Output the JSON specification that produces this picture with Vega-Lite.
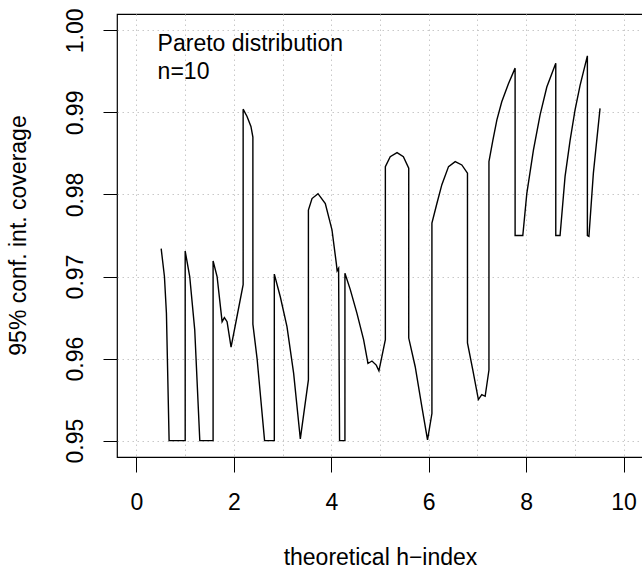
{
  "$schema": "https://vega.github.io/schema/vega-lite/v6.json",
  "width": 526,
  "height": 443,
  "autosize": {"type": "none"},
  "padding": {"left": 117, "top": 14, "right": 0, "bottom": 111},
  "background": "white",
  "config": {
    "view": {"stroke": "black", "strokeWidth": 1.2},
    "font": "Liberation Sans",
    "axis": {
      "labelFont": "Liberation Sans",
      "titleFont": "Liberation Sans",
      "labelColor": "black",
      "titleColor": "black",
      "labelFontSize": 23,
      "titleFontSize": 23,
      "titleFontWeight": "normal",
      "labelOverlap": false,
      "labelFlush": false,
      "domain": false,
      "grid": true,
      "gridColor": "#c8c8c8",
      "gridDash": [1.5, 3.5],
      "gridWidth": 1,
      "tickWidth": 1
    }
  },
  "datasets": {
    "curve": [
      {"i": 1, "h": 0.507, "coverage": 0.9734},
      {"i": 2, "h": 0.574, "coverage": 0.9700},
      {"i": 3, "h": 0.615, "coverage": 0.9655},
      {"i": 4, "h": 0.67, "coverage": 0.950},
      {"i": 5, "h": 1.0, "coverage": 0.950},
      {"i": 6, "h": 1.0, "coverage": 0.9731},
      {"i": 7, "h": 1.093, "coverage": 0.9700},
      {"i": 8, "h": 1.196, "coverage": 0.9635},
      {"i": 9, "h": 1.30, "coverage": 0.950},
      {"i": 10, "h": 1.573, "coverage": 0.950},
      {"i": 11, "h": 1.573, "coverage": 0.9719},
      {"i": 12, "h": 1.655, "coverage": 0.9700},
      {"i": 13, "h": 1.758, "coverage": 0.9645},
      {"i": 14, "h": 1.805, "coverage": 0.9650},
      {"i": 15, "h": 1.86, "coverage": 0.9645},
      {"i": 16, "h": 1.942, "coverage": 0.9614},
      {"i": 17, "h": 2.05, "coverage": 0.9647},
      {"i": 18, "h": 2.19, "coverage": 0.9690},
      {"i": 19, "h": 2.19, "coverage": 0.9904},
      {"i": 20, "h": 2.27, "coverage": 0.9895},
      {"i": 21, "h": 2.35, "coverage": 0.9883},
      {"i": 22, "h": 2.39, "coverage": 0.9870},
      {"i": 23, "h": 2.39, "coverage": 0.9642},
      {"i": 24, "h": 2.476, "coverage": 0.9600},
      {"i": 25, "h": 2.63, "coverage": 0.950},
      {"i": 26, "h": 2.83, "coverage": 0.950},
      {"i": 27, "h": 2.83, "coverage": 0.9703},
      {"i": 28, "h": 2.954, "coverage": 0.9675},
      {"i": 29, "h": 3.09, "coverage": 0.9639},
      {"i": 30, "h": 3.227, "coverage": 0.9582},
      {"i": 31, "h": 3.364, "coverage": 0.9502},
      {"i": 32, "h": 3.53, "coverage": 0.9574},
      {"i": 33, "h": 3.53, "coverage": 0.9781},
      {"i": 34, "h": 3.604, "coverage": 0.9795},
      {"i": 35, "h": 3.727, "coverage": 0.9801},
      {"i": 36, "h": 3.877, "coverage": 0.9789},
      {"i": 37, "h": 4.014, "coverage": 0.9757},
      {"i": 38, "h": 4.103, "coverage": 0.9716},
      {"i": 39, "h": 4.12, "coverage": 0.9707},
      {"i": 40, "h": 4.15, "coverage": 0.9710},
      {"i": 41, "h": 4.17, "coverage": 0.950},
      {"i": 42, "h": 4.28, "coverage": 0.950},
      {"i": 43, "h": 4.28, "coverage": 0.9704},
      {"i": 44, "h": 4.39, "coverage": 0.9684},
      {"i": 45, "h": 4.527, "coverage": 0.9655},
      {"i": 46, "h": 4.663, "coverage": 0.9623},
      {"i": 47, "h": 4.753, "coverage": 0.9594},
      {"i": 48, "h": 4.835, "coverage": 0.9597},
      {"i": 49, "h": 4.923, "coverage": 0.9592},
      {"i": 50, "h": 4.978, "coverage": 0.9585},
      {"i": 51, "h": 5.11, "coverage": 0.9623},
      {"i": 52, "h": 5.11, "coverage": 0.9834},
      {"i": 53, "h": 5.21, "coverage": 0.9846},
      {"i": 54, "h": 5.35, "coverage": 0.9851},
      {"i": 55, "h": 5.48, "coverage": 0.9846},
      {"i": 56, "h": 5.59, "coverage": 0.9832},
      {"i": 57, "h": 5.59, "coverage": 0.9625},
      {"i": 58, "h": 5.723, "coverage": 0.9590},
      {"i": 59, "h": 5.86, "coverage": 0.9541},
      {"i": 60, "h": 5.976, "coverage": 0.9501},
      {"i": 61, "h": 6.066, "coverage": 0.9533},
      {"i": 62, "h": 6.066, "coverage": 0.9765},
      {"i": 63, "h": 6.168, "coverage": 0.9789},
      {"i": 64, "h": 6.27, "coverage": 0.9812},
      {"i": 65, "h": 6.407, "coverage": 0.9834},
      {"i": 66, "h": 6.544, "coverage": 0.9840},
      {"i": 67, "h": 6.68, "coverage": 0.9836},
      {"i": 68, "h": 6.796, "coverage": 0.9826},
      {"i": 69, "h": 6.796, "coverage": 0.9619},
      {"i": 70, "h": 6.906, "coverage": 0.9586},
      {"i": 71, "h": 7.02, "coverage": 0.9550},
      {"i": 72, "h": 7.09, "coverage": 0.9556},
      {"i": 73, "h": 7.159, "coverage": 0.9554},
      {"i": 74, "h": 7.237, "coverage": 0.9586},
      {"i": 75, "h": 7.237, "coverage": 0.9840},
      {"i": 76, "h": 7.317, "coverage": 0.9866},
      {"i": 77, "h": 7.4, "coverage": 0.9891},
      {"i": 78, "h": 7.5, "coverage": 0.9913},
      {"i": 79, "h": 7.637, "coverage": 0.9935},
      {"i": 80, "h": 7.774, "coverage": 0.9954},
      {"i": 81, "h": 7.774, "coverage": 0.9750},
      {"i": 82, "h": 7.932, "coverage": 0.9750},
      {"i": 83, "h": 8.014, "coverage": 0.9801},
      {"i": 84, "h": 8.15, "coverage": 0.9854},
      {"i": 85, "h": 8.287, "coverage": 0.9897},
      {"i": 86, "h": 8.425, "coverage": 0.9931},
      {"i": 87, "h": 8.609, "coverage": 0.9960},
      {"i": 88, "h": 8.609, "coverage": 0.9750},
      {"i": 89, "h": 8.697, "coverage": 0.9750},
      {"i": 90, "h": 8.8, "coverage": 0.9822},
      {"i": 91, "h": 8.903, "coverage": 0.9866},
      {"i": 92, "h": 9.005, "coverage": 0.9903},
      {"i": 93, "h": 9.108, "coverage": 0.9933},
      {"i": 94, "h": 9.258, "coverage": 0.9969},
      {"i": 95, "h": 9.258, "coverage": 0.9750},
      {"i": 96, "h": 9.29, "coverage": 0.9749},
      {"i": 97, "h": 9.381, "coverage": 0.9826},
      {"i": 98, "h": 9.518, "coverage": 0.9905}
    ],
    "notes": [
      {"label": "Pareto distribution", "h": 0.434, "coverage": 0.99753},
      {"label": "n=10", "h": 0.434, "coverage": 0.99408}
    ]
  },
  "layer": [
    {
      "data": {"name": "curve"},
      "mark": {"type": "line", "color": "black", "strokeWidth": 1.4},
      "encoding": {
        "x": {
          "field": "h",
          "type": "quantitative",
          "scale": {"domain": [-0.4, 10.4], "nice": false, "zero": false},
          "axis": {
            "values": [0, 1, 2, 3, 4, 5, 6, 7, 8, 9, 10],
            "labelExpr": "datum.value % 2 === 0 ? datum.label : ''",
            "tickColor": {"condition": {"test": "datum.value % 2 === 0", "value": "black"}, "value": "transparent"},
            "tickSize": 15,
            "labelBaseline": "alphabetic",
            "labelPadding": 37,
            "title": "theoretical h−index",
            "titleBaseline": "alphabetic",
            "titleAlign": "center",
            "titleX": 263,
            "titleY": 107
          }
        },
        "y": {
          "field": "coverage",
          "type": "quantitative",
          "scale": {"domain": [0.948, 1.002], "nice": false, "zero": false},
          "axis": {
            "values": [0.95, 0.96, 0.97, 0.98, 0.99, 1.0],
            "format": ".2f",
            "tickSize": 14,
            "tickColor": "black",
            "labelAngle": 270,
            "labelAlign": "center",
            "labelBaseline": "alphabetic",
            "labelPadding": 21,
            "title": "95% conf. int. coverage",
            "titleAngle": 270,
            "titleAlign": "center",
            "titleBaseline": "alphabetic",
            "titleX": -92,
            "titleY": 221
          }
        },
        "order": {"field": "i", "type": "quantitative"}
      }
    },
    {
      "data": {"name": "notes"},
      "mark": {"type": "text", "align": "left", "baseline": "alphabetic", "fontSize": 23, "font": "Liberation Sans", "color": "black"},
      "encoding": {
        "x": {"field": "h", "type": "quantitative"},
        "y": {"field": "coverage", "type": "quantitative"},
        "text": {"field": "label"}
      }
    }
  ]
}
